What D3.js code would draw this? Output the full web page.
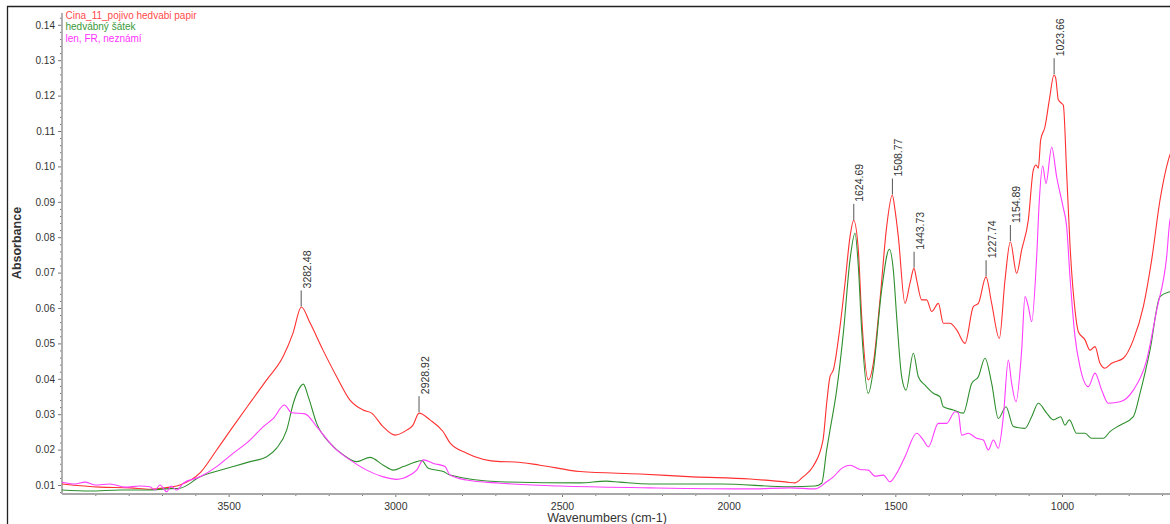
<!DOCTYPE html>
<html>
<head>
<meta charset="utf-8">
<script src="https://cdn.jsdelivr.net/npm/d3@7"></script>
<style>
  html, body { margin: 0; padding: 0; background: #fff; }
  svg { display: block; font-family: "Liberation Sans", Arial, sans-serif; }
</style>
</head>
<body>
<svg id="chart" width="1170" height="524"></svg>
<script>
// ---- data (wavenumber cm-1, absorbance) ----
const seriesNames = ["Cina_11_pojivo hedvabi papir", "hedvábný šátek", "len, FR, neznámí"];

const redSpectrum = [
  [4000,0.0103],[3886,0.0094],[3796,0.0092],[3736,0.0088],[3691,0.0092],[3646,0.0100],
  [3586,0.0134],[3536,0.0199],[3487,0.0265],[3436,0.0332],[3386,0.0397],[3337,0.0462],
  [3307,0.0529],[3282,0.0603],[3256,0.0558],[3217,0.0481],[3176,0.0406],[3136,0.0340],
  [3097,0.0312],[3071,0.0303],[3037,0.0265],[3001,0.0241],[2966,0.0255],[2947,0.0269],
  [2929,0.0303],[2896,0.0284],[2857,0.0251],[2836,0.0219],[2786,0.0190],[2686,0.0166],
  [2641,0.0165],[2566,0.0156],[2446,0.0138],[2266,0.0131],[2107,0.0123],[1936,0.0117],
  [1825,0.0108],[1801,0.0106],[1777,0.0123],[1747,0.0152],[1717,0.0227],[1706,0.0331],
  [1696,0.0406],[1686,0.0425],[1666,0.0547],[1651,0.0670],[1636,0.0801],[1625,0.0848],
  [1611,0.0764],[1601,0.0575],[1581,0.0397],[1566,0.0444],[1546,0.0623],[1526,0.0830],
  [1509,0.0919],[1501,0.0877],[1491,0.0801],[1471,0.0613],[1456,0.0670],[1444,0.0712],
  [1436,0.0679],[1421,0.0623],[1406,0.0623],[1391,0.0590],[1371,0.0613],[1356,0.0557],
  [1336,0.0557],[1316,0.0538],[1291,0.0500],[1266,0.0604],[1251,0.0613],[1228,0.0688],
  [1211,0.0613],[1188,0.0514],[1171,0.0679],[1155,0.0787],[1136,0.0698],[1121,0.0764],
  [1101,0.0849],[1086,0.0990],[1078,0.1004],[1071,0.0995],[1064,0.1075],[1051,0.1112],
  [1038,0.1188],[1024,0.1258],[1019,0.1250],[1011,0.1188],[1001,0.1178],[996,0.1173],
  [986,0.0981],[976,0.0778],[961,0.0594],[951,0.0533],[931,0.0510],[916,0.0481],
  [901,0.0491],[886,0.0444],[871,0.0430],[851,0.0444],[816,0.0458],[786,0.0510],
  [756,0.0604],[731,0.0736],[706,0.0905],[681,0.1018],[652,0.1075]
];

const greenSpectrum = [
  [4000,0.0086],[3916,0.0083],[3826,0.0086],[3736,0.0086],[3691,0.0089],[3646,0.0091],
  [3586,0.0123],[3486,0.0152],[3436,0.0166],[3386,0.0180],[3356,0.0204],[3326,0.0255],
  [3306,0.0331],[3291,0.0368],[3276,0.0385],[3261,0.0349],[3236,0.0274],[3196,0.0218],
  [3156,0.0185],[3116,0.0166],[3076,0.0178],[3036,0.0156],[3006,0.0142],[2976,0.0152],
  [2936,0.0166],[2921,0.0169],[2901,0.0147],[2856,0.0138],[2836,0.0128],[2686,0.0109],
  [2446,0.0106],[2368,0.0111],[2326,0.0108],[2236,0.0103],[2026,0.0103],[1816,0.0095],
  [1741,0.0097],[1721,0.0105],[1706,0.0199],[1696,0.0255],[1676,0.0368],[1656,0.0529],
  [1636,0.0736],[1621,0.0811],[1611,0.0717],[1601,0.0538],[1581,0.0359],[1566,0.0425],
  [1541,0.0651],[1518,0.0766],[1506,0.0707],[1496,0.0575],[1481,0.0406],[1468,0.0368],
  [1446,0.0472],[1431,0.0406],[1411,0.0382],[1386,0.0359],[1366,0.0349],[1356,0.0321],
  [1326,0.0312],[1296,0.0303],[1271,0.0387],[1251,0.0406],[1231,0.0458],[1211,0.0387],
  [1191,0.0288],[1168,0.0321],[1146,0.0265],[1111,0.0260],[1091,0.0293],[1071,0.0331],
  [1046,0.0303],[1026,0.0284],[1004,0.0293],[991,0.0269],[978,0.0284],[956,0.0246],
  [931,0.0246],[911,0.0232],[876,0.0232],[856,0.0251],[826,0.0269],[786,0.0293],
  [766,0.0359],[736,0.0481],[706,0.0632],[676,0.0646],[652,0.0651]
];

const magentaSpectrum = [
  [4000,0.0108],[3961,0.0103],[3931,0.0108],[3901,0.0100],[3856,0.0103],[3811,0.0094],
  [3766,0.0097],[3736,0.0095],[3721,0.0086],[3706,0.0100],[3686,0.0081],[3673,0.0097],
  [3656,0.0086],[3636,0.0105],[3586,0.0123],[3536,0.0152],[3486,0.0190],[3436,0.0227],
  [3396,0.0265],[3366,0.0288],[3333,0.0326],[3311,0.0304],[3271,0.0301],[3236,0.0265],
  [3186,0.0208],[3136,0.0171],[3086,0.0142],[3036,0.0123],[2996,0.0116],[2956,0.0128],
  [2936,0.0142],[2916,0.0171],[2886,0.0161],[2851,0.0152],[2836,0.0128],[2786,0.0114],
  [2686,0.0105],[2506,0.0097],[2236,0.0092],[1936,0.0089],[1816,0.0092],[1741,0.0089],
  [1706,0.0109],[1686,0.0123],[1661,0.0147],[1636,0.0156],[1606,0.0144],[1581,0.0142],
  [1561,0.0125],[1536,0.0128],[1516,0.0109],[1496,0.0133],[1471,0.0180],[1436,0.0246],
  [1416,0.0227],[1401,0.0208],[1371,0.0274],[1346,0.0274],[1321,0.0307],[1311,0.0303],
  [1301,0.0241],[1281,0.0246],[1256,0.0232],[1236,0.0227],[1221,0.0199],[1206,0.0227],
  [1191,0.0204],[1176,0.0293],[1161,0.0453],[1151,0.0387],[1138,0.0335],[1121,0.0481],
  [1111,0.0632],[1101,0.0604],[1091,0.0561],[1076,0.0745],[1068,0.0905],[1058,0.1001],
  [1048,0.0952],[1031,0.1054],[1016,0.0970],[996,0.0882],[986,0.0830],[976,0.0688],
  [961,0.0519],[946,0.0434],[921,0.0378],[901,0.0416],[881,0.0368],[861,0.0331],
  [826,0.0335],[786,0.0368],[746,0.0453],[716,0.0594],[686,0.0745],[676,0.0849],
  [652,0.0905]
];

const peakLabels = [3282.48, 2928.92, 1624.69, 1508.77, 1443.73, 1227.74, 1154.89, 1023.66];
const xTickLabels = [3500, 3000, 2500, 2000, 1500, 1000];
const yTickLabels = [0.01,0.02,0.03,0.04,0.05,0.06,0.07,0.08,0.09,0.10,0.11,0.12,0.13,0.14];

// ---- drawing ----
(function () {
const svg = d3.select("#chart");
const colors = ["#ff3030", "#2f8f2f", "#ff3cff"];
const legendColors = ["#ff4a4a", "#3a9a3a", "#ff33ff"];

const plotLeft = 62, plotBottom = 494, plotTop = 13;
const x = d3.scaleLinear().domain([4000, 650]).range([plotLeft, 1178.67]);
const y = d3.scaleLinear().domain([0.01, 0.14]).range([485, 24.8]);

// outer frame
svg.append("path").attr("d", "M7.5,524 L7.5,6.5 L1170,6.5")
  .attr("fill", "none").attr("stroke", "#222").attr("stroke-width", 1.3);

svg.append("defs").append("clipPath").attr("id", "plotclip")
  .append("rect").attr("x", plotLeft).attr("y", plotTop)
  .attr("width", 1170 - plotLeft).attr("height", plotBottom - plotTop);

// axes
const minorX = d3.range(3900, 600, -100).filter(v => v % 500 !== 0);
const xAxisMinor = svg.append("g").attr("transform", `translate(0,${plotBottom})`)
  .call(d3.axisBottom(x).tickValues(minorX).tickSize(2).tickFormat(""));
const xAxis = svg.append("g").attr("transform", `translate(0,${plotBottom})`)
  .call(d3.axisBottom(x).tickValues(xTickLabels).tickSize(3).tickPadding(3).tickFormat(d3.format("d")));

const minorY = d3.range(0.008, 0.1425, 0.002).filter(v => Math.abs(Math.round(v * 100) - v * 100) > 1e-6);
const yAxisMinor = svg.append("g").attr("transform", `translate(${plotLeft},0)`)
  .call(d3.axisLeft(y).tickValues(minorY).tickSize(2).tickFormat(""));
const yAxis = svg.append("g").attr("transform", `translate(${plotLeft},0)`)
  .call(d3.axisLeft(y).tickValues(yTickLabels).tickSize(4).tickPadding(3).tickFormat(d3.format(".2f")));

[xAxisMinor, xAxis, yAxisMinor, yAxis].forEach(g => {
  g.select(".domain").remove();
  g.selectAll(".tick line").attr("stroke", "#777");
  g.selectAll(".tick text").attr("fill", "#333").style("font-size", "10px")
    .style("font-family", '"Liberation Sans", Arial, sans-serif');
});
xAxis.selectAll(".tick text").attr("dy", "0.95em").style("font-size", "10.5px");

// axis lines
svg.append("line").attr("x1", plotLeft).attr("x2", 1170).attr("y1", plotBottom).attr("y2", plotBottom)
  .attr("stroke", "#a8a8a8").attr("stroke-width", 1.8);
svg.append("line").attr("x1", plotLeft).attr("x2", plotLeft).attr("y1", plotTop).attr("y2", plotBottom)
  .attr("stroke", "#a8a8a8").attr("stroke-width", 1.8);

// axis titles
svg.append("text").attr("x", 607).attr("y", 522).attr("text-anchor", "middle")
  .attr("fill", "#333").style("font-size", "12.5px").text("Wavenumbers (cm-1)");
svg.append("text").attr("transform", "translate(21,243) rotate(-90)").attr("text-anchor", "middle")
  .attr("fill", "#333").style("font-size", "12.5px").style("font-weight", "bold").text("Absorbance");

// spectra
const line = d3.line().x(d => x(d[0])).y(d => y(d[1])).curve(d3.curveMonotoneX);
const plot = svg.append("g").attr("clip-path", "url(#plotclip)");
[redSpectrum, greenSpectrum, magentaSpectrum].forEach((s, i) => {
  plot.append("path").datum(s).attr("d", line)
    .attr("fill", "none").attr("stroke", colors[i]).attr("stroke-width", 1.1)
    .attr("stroke-linejoin", "round");
});

// peak labels on red spectrum
function valueAt(series, w) {
  for (let i = 0; i < series.length - 1; i++) {
    const a = series[i], b = series[i + 1];
    if (w <= a[0] && w >= b[0]) {
      const t = (a[0] - w) / (a[0] - b[0]);
      return a[1] + t * (b[1] - a[1]);
    }
  }
  return series[0][1];
}
const pk = svg.append("g");
peakLabels.forEach(w => {
  const px = x(w), py = y(valueAt(redSpectrum, w));
  pk.append("line").attr("x1", px).attr("x2", px).attr("y1", py - 1).attr("y2", py - 17)
    .attr("stroke", "#555").attr("stroke-width", 1);
  pk.append("text").attr("transform", `translate(${px + 9.5},${py - 19}) rotate(-90)`)
    .attr("text-anchor", "start").attr("fill", "#333").style("font-size", "10.5px")
    .text(w.toFixed(2));
});

// legend
const legendY = [18.5, 30, 41.5];
seriesNames.forEach((n, i) => {
  svg.append("text").attr("x", 65.5).attr("y", legendY[i]).attr("fill", legendColors[i])
    .style("font-size", "10px").text(n);
});
})();
</script>
</body>
</html>
